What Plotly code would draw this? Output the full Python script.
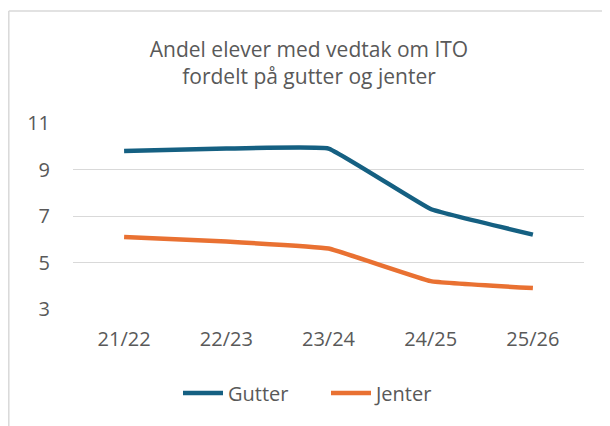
import plotly.graph_objects as go

categories = ["21/22", "22/23", "23/24", "24/25", "25/26"]
gutter = [9.8, 9.9, 9.9, 7.3, 6.2]
jenter = [6.1, 5.9, 5.6, 4.2, 3.9]
y_ticks = [3, 5, 7, 9, 11]

FONT = "Open Sans"
TXT = "#595959"

fig = go.Figure()
fig.add_trace(go.Scatter(x=categories, y=gutter, name="Gutter", mode="lines",
                         line=dict(color="#156082", width=4.5, shape="spline", smoothing=0.25)))
fig.add_trace(go.Scatter(x=categories, y=jenter, name="Jenter", mode="lines",
                         line=dict(color="#E97132", width=4.5, shape="spline", smoothing=0.25)))

# page body has an 8px margin; figure coordinates are offset accordingly
OFF = 8
W, H = 610 - OFF, 426 - OFF
L, T = 73 - OFF, 123 - OFF
R = W - (584 - OFF)
B = H - (309 - OFF)
pw, ph = W - L - R, H - T - B

fig.update_layout(
    width=W, height=H,
    margin=dict(l=L, r=R, t=T, b=B),
    paper_bgcolor="white", plot_bgcolor="white",
    font=dict(family=FONT, size=20, color=TXT),
    title=dict(text="Andel elever med vedtak om ITO<br>fordelt på gutter og jenter",
               x=(309 - OFF) / W, xanchor="center", y=1 - (57 - OFF) / H, yanchor="middle",
               font=dict(family=FONT, size=21, color=TXT)),
    xaxis=dict(showgrid=False, showline=False, zeroline=False, ticks="",
               tickfont=dict(size=20, color=TXT), range=[-0.5, 4.5],
               ticklabelstandoff=16),
    yaxis=dict(range=[3, 11], tickvals=y_ticks, showgrid=True, gridcolor="#d9d9d9",
               gridwidth=1.2, zeroline=False, showline=False, ticks="",
               tickfont=dict(size=20, color=TXT), ticklabelstandoff=22),
    legend=dict(orientation="h", x=(326 - OFF - L) / pw, xanchor="center",
                y=-((393 - OFF) - (T + ph)) / ph, yanchor="middle",
                font=dict(size=20, color=TXT), itemwidth=40, entrywidth=93,
                tracegroupgap=0),
    showlegend=True,
)

# chart-area border (left and top edges visible)
bx = (0.8 - L) / pw
by = 1 + (T - (11 - OFF)) / ph
fig.add_shape(type="line", xref="paper", yref="paper", x0=bx, x1=bx, y0=-(B + 10) / ph, y1=by,
              line=dict(color="#d9d9d9", width=1.5))
fig.add_shape(type="line", xref="paper", yref="paper", x0=bx, x1=(W + 10 - L) / pw, y0=by, y1=by,
              line=dict(color="#d9d9d9", width=1.5))

fig.write_html("out.html")
